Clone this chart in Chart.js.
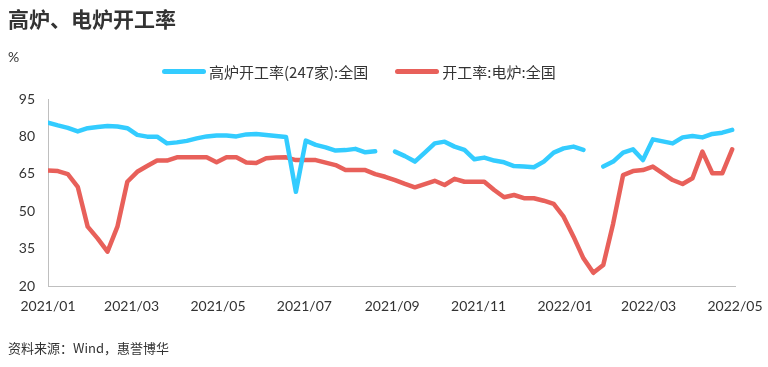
<!DOCTYPE html>
<html lang="zh-CN">
<head>
    <meta charset="UTF-8">
    <title>高炉、电炉开工率</title>
    <script src="https://cdn.jsdelivr.net/npm/chart.js"></script>
    <style>
        body {
            margin: 0;
            width: 768px;
            height: 367px;
            position: relative;
            background: #fff;
            font-family: "Noto Sans CJK SC", sans-serif;
            color: #333;
            overflow: hidden;
        }
        #title {
            position: absolute;
            left: 8px;
            top: 3px;
            font-size: 21px;
            font-weight: bold;
        }
        #unit {
            position: absolute;
            left: 8px;
            top: 48px;
            font-size: 14px;
            font-family: Lato, sans-serif;
        }
        #legend {
            position: absolute;
            left: 162px;
            top: 61px;
            font-size: 15px;
            display: flex;
            align-items: center;
        }
        #legend span.item {
            display: flex;
            align-items: center;
            margin-right: 27px;
        }
        #legend span.swatch {
            display: inline-block;
            width: 44px;
            height: 5px;
            border-radius: 3px;
            margin-right: 3px;
        }
        #source {
            position: absolute;
            left: 8px;
            top: 338px;
            font-size: 13px;
        }
        #chart-container {
            position: absolute;
            left: 0;
            top: 0;
            width: 768px;
            height: 367px;
        }
    </style>
</head>
<body>
    <div id="chart-container">
        <canvas id="rate-chart"></canvas>
    </div>
    <div id="title">高炉、电炉开工率</div>
    <div id="unit">%</div>
    <div id="legend"></div>
    <div id="source">资料来源：Wind，惠誉博华</div>

    <script>
        // 周度数据，2021/01/01 起每周五
        const firstWeek = '2021-01-01';
        const seriesNames = ['高炉开工率(247家):全国', '开工率:电炉:全国'];
        const blastFurnace = [
            85.5, 84.4, 83.4, 82.0, 83.3, 83.8, 84.2, 84.0, 83.3, 80.6,
            79.9, 79.9, 77.2, 77.6, 78.2, 79.2, 80.0, 80.4, 80.4, 80.0,
            80.8, 81.0, 80.6, 80.2, 79.8, 57.8, 78.3, 76.6, 75.6, 74.3,
            74.5, 75.0, 73.6, 74.0, null, 73.9, 72.1, 69.9, 73.5, 77.2,
            77.9, 75.9, 74.6, 70.8, 71.5, 70.3, 69.6, 68.1, 67.9, 67.6,
            69.9, 73.5, 75.2, 75.9, 74.6, null, 67.9, 69.9, 73.5, 74.8,
            70.5, 78.8, 78.0, 77.2, 79.6, 80.2, 79.6, 81.0, 81.5, 82.6
        ];
        const electricFurnace = [
            66.3, 66.1, 64.9, 59.8, 43.8, 39.1, 33.8, 43.8, 61.8, 65.8,
            68.1, 70.3, 70.3, 71.6, 71.6, 71.6, 71.6, 69.6, 71.6, 71.6,
            69.5, 69.3, 71.2, 71.5, 71.6, 70.5, 70.5, 70.5, 69.5, 68.5,
            66.5, 66.5, 66.5, 64.9, 63.8, 62.5, 61.0, 59.6, 60.9, 62.2,
            60.5, 63.0, 61.8, 61.8, 61.8, 58.5, 55.6, 56.5, 55.2, 55.2,
            54.2, 52.9, 47.8, 39.8, 31.1, 25.3, 28.4, 45.1, 64.5, 66.1,
            66.5, 67.9, 65.2, 62.5, 60.9, 63.2, 73.9, 65.2, 65.2, 74.8
        ];
        const xTickLabels = ['2021/01', '2021/03', '2021/05', '2021/07', '2021/09',
                             '2021/11', '2022/01', '2022/03', '2022/05'];
        const yTicks = [20, 35, 50, 65, 80, 95];
        const colors = ['#33CCFF', '#E8605A'];

        const DAY = 86400000;
        const origin = Date.parse(firstWeek);
        const monthDay = (label) => {
            const [y, m] = label.split('/').map(Number);
            return (Date.UTC(y, m - 1, 1) - origin) / DAY;
        };
        const toPoints = (arr) => arr.map((v, i) => ({ x: i * 7, y: v }));

        const axisFont = { family: 'Lato, sans-serif', size: 14 };

        const config = {
            type: 'line',
            data: {
                datasets: [blastFurnace, electricFurnace].map((arr, k) => ({
                    label: seriesNames[k],
                    data: toPoints(arr),
                    borderColor: colors[k],
                    backgroundColor: colors[k],
                    borderWidth: 4.5,
                    pointRadius: 0,
                    tension: 0,
                    spanGaps: false,
                    borderCapStyle: 'round',
                    borderJoinStyle: 'round'
                }))
            },
            options: {
                responsive: false,
                animation: false,
                layout: { padding: { top: 99, right: 33, bottom: 0, left: 0 } },
                plugins: {
                    legend: { display: false },
                    tooltip: { enabled: false }
                },
                scales: {
                    x: {
                        type: 'linear',
                        min: 0,
                        max: monthDay(xTickLabels[xTickLabels.length - 1]),
                        grid: { display: false },
                        border: { display: true, color: '#BFBFBF', width: 1 },
                        afterBuildTicks: (scale) => {
                            scale.ticks = xTickLabels.map(l => ({ value: monthDay(l), label: l }));
                        },
                        afterFit: (scale) => { scale.height = 81; },
                        ticks: {
                            autoSkip: false,
                            maxRotation: 0,
                            padding: 4,
                            color: '#333',
                            font: axisFont,
                            callback: function (value) {
                                const t = xTickLabels.find(l => monthDay(l) === value);
                                return t || '';
                            }
                        }
                    },
                    y: {
                        min: yTicks[0],
                        max: yTicks[yTicks.length - 1],
                        grid: { display: false, drawTicks: false },
                        border: { display: true, color: '#BFBFBF', width: 1 },
                        afterBuildTicks: (scale) => {
                            scale.ticks = yTicks.map(v => ({ value: v }));
                        },
                        afterFit: (scale) => { scale.width = 48; },
                        ticks: {
                            padding: 13,
                            color: '#333',
                            font: axisFont
                        }
                    }
                }
            }
        };

        const canvas = document.getElementById('rate-chart');
        canvas.width = 768;
        canvas.height = 367;
        const rateChart = new Chart(canvas.getContext('2d'), config);

        // 图例
        const legend = document.getElementById('legend');
        rateChart.data.datasets.forEach(ds => {
            const item = document.createElement('span');
            item.className = 'item';
            const sw = document.createElement('span');
            sw.className = 'swatch';
            sw.style.background = ds.borderColor;
            item.appendChild(sw);
            item.appendChild(document.createTextNode(ds.label));
            legend.appendChild(item);
        });
    </script>
</body>
</html>
